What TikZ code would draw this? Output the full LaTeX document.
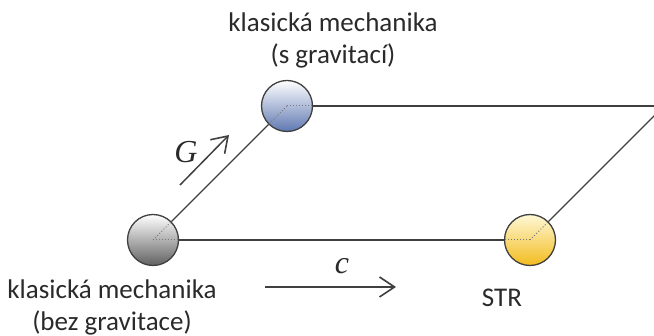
\documentclass[tikz,border=0pt]{standalone}
\usepackage{fontspec}
\setmainfont{Carlito}
\newfontfamily\symfont{Liberation Serif}
\usetikzlibrary{arrows.meta}
\definecolor{ln}{HTML}{404040}
\definecolor{txt}{HTML}{2A2A2A}
\tikzset{
  sphere/.style={circle, draw=ln, line width=1.3pt, minimum size=51pt, inner sep=0pt, shading=axis, shading angle=135},
  conn/.style={draw=ln, line width=1.4pt},
  hid/.style={draw=ln!70, line width=1pt, dotted},
  lbl/.style={text=txt, align=center, font=\fontsize{27}{32}\selectfont, inner sep=0pt},
  sym/.style={text=txt, inner sep=0pt, font=\symfont\itshape\fontsize{32}{32}\selectfont},
  dirarrow/.style={draw=ln, line width=1.5pt, -{Straight Barb[length=15pt,width=20pt,line width=1.6pt]}}
}
\begin{document}
\begin{tikzpicture}[x=1pt,y=-1pt]
\useasboundingbox (0,0) rectangle (654,336);
\clip (0,0) rectangle (654,336);
\node[sphere, top color=white, bottom color=black!62] (g) at (153,240) {};
\node[sphere, top color=white, bottom color={rgb,255:red,95;green,120;blue,178}] (b) at (287,106) {};
\node[sphere, top color={rgb,255:red,255;green,248;blue,215}, bottom color={rgb,255:red,242;green,188;blue,30}] (y) at (530,240) {};
\coordinate (d) at (664,106);
\draw[conn] (g) -- (b);
\draw[conn] (g) -- (y);
\draw[conn] (b) -- (d);
\draw[conn] (y) -- (d);
\draw[hid] (g.center) -- (g.east);
\draw[hid] (g.center) -- (g.45);
\draw[hid] (b.center) -- (b.east);
\draw[hid] (b.center) -- (b.225);
\draw[hid] (y.center) -- (y.west);
\draw[hid] (y.center) -- (y.45);
\node[lbl] (tl) at (333,40) {klasická mechanika\\(s gravitací)};
\node[lbl] (bl) at (112,307) {klasická mechanika\\(bez gravitace)};
\node[lbl] (str) at (502,298) {STR};
\node[sym] (G) at (186,152) {G};
\node[sym] (c) at (342,266) {c};
\coordinate (ga) at (180,185);
\coordinate (gb) at (229,135);
\coordinate (ca) at (265,287);
\coordinate (cb) at (396,287);
\draw[dirarrow] (ga) -- (gb);
\draw[dirarrow] (ca) -- (cb);
\end{tikzpicture}
\end{document}
